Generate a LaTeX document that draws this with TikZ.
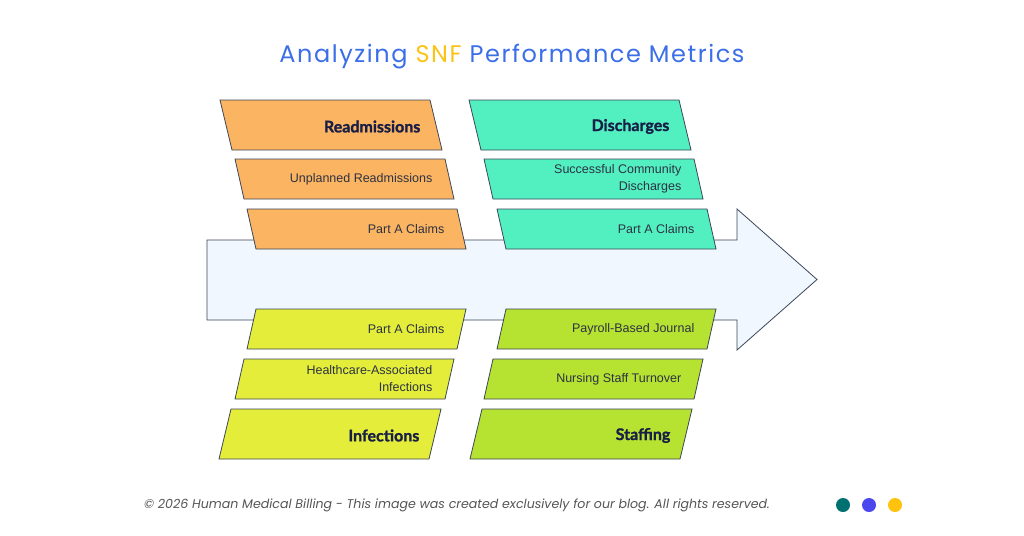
\documentclass[tikz,border=0pt]{standalone}
\usepackage{fontspec}
\setmainfont{Liberation Sans}
\newfontfamily\poppins{Poppins}
\newfontfamily\poppinsT[LetterSpace=6.5]{Poppins}
\newfontfamily\latofont[BoldFeatures={FakeBold=1.2}]{Lato}
\definecolor{rdO}{RGB}{251,180,98}
\definecolor{dsT}{RGB}{82,240,192}
\definecolor{inY}{RGB}{228,238,58}
\definecolor{stG}{RGB}{182,226,50}
\definecolor{arF}{RGB}{240,247,254}
\definecolor{boxE}{RGB}{60,70,88}
\definecolor{headC}{RGB}{24,30,70}
\definecolor{itemC}{RGB}{45,50,66}
\definecolor{titleB}{RGB}{59,111,232}
\definecolor{snfY}{RGB}{250,196,22}
\definecolor{footG}{RGB}{85,85,85}
\definecolor{dotT}{RGB}{0,112,112}
\definecolor{dotB}{RGB}{74,71,238}
\definecolor{dotY}{RGB}{255,194,14}
\newcommand{\BW}{210}

\begin{document}
\begin{tikzpicture}[x=1pt, y=-1pt,
    edge/.style={draw=boxE, line width=0.8pt},
    head/.style={font=\latofont\bfseries\fontsize{16}{18}\selectfont, text=headC, inner sep=0pt, yshift=-1.5pt},
    item/.style={font=\fontsize{12.5}{17}\selectfont, text=itemC, align=right, inner sep=0pt},
    title/.style={font=\poppinsT\fontsize{24}{28}\selectfont, text=titleB},
    footer/.style={font=\poppins\itshape\fontsize{12.6}{15}\selectfont, text=footG, inner sep=0pt},
    dot/.style={circle, minimum size=14pt, inner sep=0pt},
  ]
  \useasboundingbox[fill=white] (0,0) rectangle (1024,535);

  % slanted card: #1 name, #2 top-left x, #3 top y, #4 height, #5 bottom shift, #6 fill, #7 text style, #8 right pad, #9 text
  \newcommand{\card}[9]{%
    \draw[edge, fill=#6] (#2,#3) -- ++(\BW,0) -- ++(#5,#4) -- ++(-\BW,0) -- cycle;
    \node[#7, anchor=east] (#1) at ({#2+\BW+0.5*(#5)-#8},{#3+0.5*(#4)}) {#9};}

  \node[title] (title) at (512,57) {Analyzing {\color{snfY}SNF} Performance Metrics};

  % big arrow behind the cards
  \draw[edge, fill=arF] (207,240) -- (737,240) -- (737,209) -- (817,279.5)
    -- (737,350) -- (737,320) -- (207,320) -- cycle;

  % upper row
  \card{readm}{220}{100}{50}{12}{rdO}{head}{15.5}{Readmissions}
  \card{unplan}{235}{159}{40}{9}{rdO}{item}{17}{Unplanned Readmissions}
  \card{partaT}{247}{209}{40}{9}{rdO}{item}{17}{Part A Claims}
  \card{disch}{469}{100}{50}{12}{dsT}{head}{15.5}{Discharges}
  \card{commun}{484}{159}{40}{9}{dsT}{item}{17}{Successful Community\\Discharges}
  \card{partaR}{497}{209}{40}{9}{dsT}{item}{17}{Part A Claims}

  % lower row
  \card{partaB}{256}{309}{40}{-9}{inY}{item}{17}{Part A Claims}
  \card{hai}{244}{359}{40}{-9}{inY}{item}{17}{Healthcare-Associated\\Infections}
  \card{infect}{231}{409}{50}{-12}{inY}{head}{15.5}{Infections}
  \card{pbj}{506}{309}{40}{-9}{stG}{item}{17}{Payroll-Based Journal}
  \card{turnover}{493}{359}{40}{-9}{stG}{item}{17}{Nursing Staff Turnover}
  \card{staff}{482}{409}{50}{-12}{stG}{head}{15.5}{Staffing}

  \node[footer, anchor=west] (credit) at (144,505)
    {© 2026 Human Medical Billing - This image was created exclusively for our blog. All rights reserved.};
  \foreach \c/\x in {dotT/843, dotB/869, dotY/895}
    \node[dot, fill=\c] (\c) at (\x,505) {};

\end{tikzpicture}
\end{document}
